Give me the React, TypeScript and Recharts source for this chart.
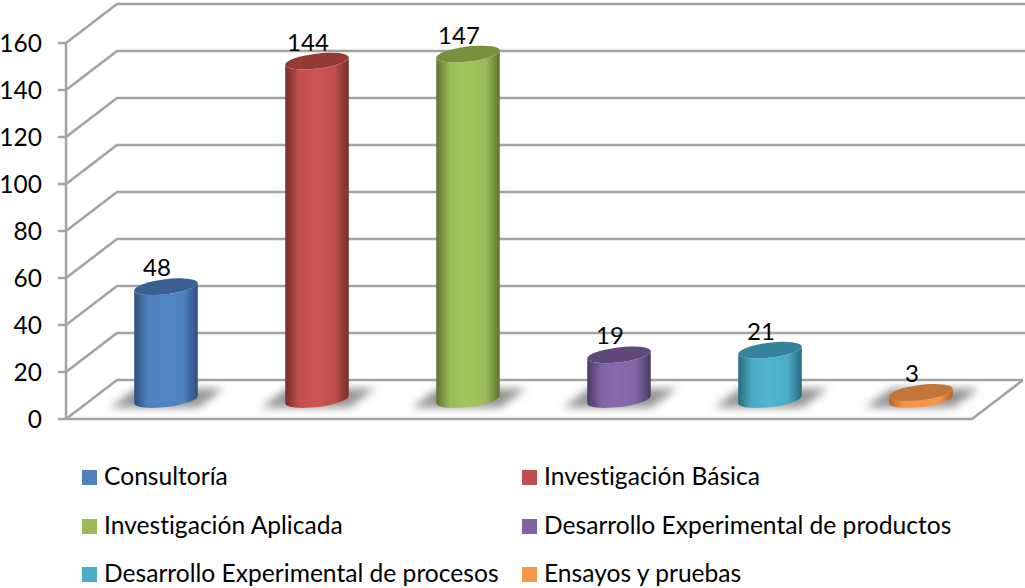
import { BarChart, Bar, XAxis, YAxis, CartesianGrid, LabelList } from "recharts";

const categories = [
  "Consultoría",
  "Investigación Básica",
  "Investigación Aplicada",
  "Desarrollo Experimental de productos",
  "Desarrollo Experimental de procesos",
  "Ensayos y pruebas",
];
const values = [48, 144, 147, 19, 21, 3];
const yTicks = [0, 20, 40, 60, 80, 100, 120, 140, 160];

// legend swatch, brightest body tone, cylinder edge, top cap
const swatch = ["#4f81bd", "#c0504d", "#9bbb59", "#8064a2", "#4bacc6", "#f79646"];
const bodyLight = ["#5085c5", "#cc5553", "#a2c55c", "#8a6bae", "#4fb6d2", "#f79646"];
const bodyDark = ["#2c4f7d", "#762c2a", "#5d7430", "#4c3a62", "#276a7c", "#b5652a"];
const capFill = ["#3a6190", "#943b38", "#76923c", "#5f497a", "#35849c", "#c0753a"];

const data = categories.map((name, i) => ({ name, value: values[i] }));

// depth of the fake 3D box
const DX = 51;
const DY = 39;
const FONT = "Lato, Carlito, sans-serif";
const GRID = "#a3a3a3";

function GridLine(props: any) {
  const { x1, x2, y1, index } = props;
  const isFloor = index === 0;
  return (
    <g fill="none" stroke={GRID} strokeWidth={2.5}>
      <polyline points={`${x1},${y1} ${x1 + DX},${y1 - DY} ${isFloor ? x2 + DX : 1025},${y1 - DY}`} />
      {isFloor && <polyline points={`${x1},${y1} ${x2},${y1} ${x2 + DX},${y1 - DY}`} />}
    </g>
  );
}

function Cylinder(props: any) {
  const { x, y, width, height, index } = props;
  const rx = width / 2 + 0.5;
  const ry = 7.5;
  const tilt = -7;
  const cx = x + width / 2 + DX / 2 - 1;
  const top = y - DY / 2;
  const base = top + height;
  const ex = rx * Math.cos((tilt * Math.PI) / 180);
  const ey = rx * Math.sin((tilt * Math.PI) / 180);
  const body =
    `M${cx + ex},${top + ey} L${cx + ex},${base + ey} ` +
    `A${rx},${ry} ${tilt} 0 1 ${cx - ex},${base - ey} ` +
    `L${cx - ex},${top - ey} A${rx},${ry} ${tilt} 0 0 ${cx + ex},${top + ey} Z`;
  return (
    <g>
      <polygon
        points={`${cx - 56},${base + 8} ${cx - 30},${base - 11} ${cx + 58},${base - 11} ${cx + 32},${base + 8}`}
        fill="#949494"
        filter="url(#floorShadow)"
      />
      <path d={body} fill={`url(#cyl-${index})`} />
      <ellipse cx={cx} cy={top} rx={rx} ry={ry} fill={capFill[index]} transform={`rotate(${tilt} ${cx} ${top})`} />
    </g>
  );
}

function ValueLabel(props: any) {
  const { x, y, width, value } = props;
  return (
    <text
      x={x + width / 2 + DX / 2 - 10}
      y={y - DY / 2 - 20}
      textAnchor="middle"
      dominantBaseline="central"
      fontFamily={FONT}
      fontSize={24}
      fill="#000"
    >
      {value}
    </text>
  );
}

const legendLeft = [82, 522];
const legendTop = [470, 519, 567];

export default function App() {
  return (
    <div style={{ position: "absolute", left: 0, top: 0, width: 1025, height: 588, background: "#fff", overflow: "hidden" }}>
      <BarChart width={1025} height={588} data={data} margin={{ top: 43, right: 53, bottom: 169, left: 0 }} barSize={63}>
        <defs>
          <filter id="floorShadow" x="-30%" y="-60%" width="160%" height="220%">
            <feGaussianBlur stdDeviation="4" />
          </filter>
          {swatch.map((mid, i) => (
            <linearGradient key={i} id={`cyl-${i}`} x1="0" y1="0" x2="1" y2="0">
              <stop offset="0%" stopColor={bodyDark[i]} />
              <stop offset="22%" stopColor={mid} />
              <stop offset="48%" stopColor={bodyLight[i]} />
              <stop offset="78%" stopColor={mid} />
              <stop offset="100%" stopColor={bodyDark[i]} />
            </linearGradient>
          ))}
        </defs>
        <CartesianGrid vertical={false} horizontal={(p: any) => <GridLine key={p.index} {...p} />} />
        <XAxis dataKey="name" tick={false} tickLine={false} height={0} axisLine={false} />
        <YAxis
          width={66}
          domain={[0, 160]}
          ticks={yTicks}
          interval={0}
          tick={{ fontFamily: FONT, fontSize: 24.5, fill: "#000" }}
          tickSize={8}
          tickMargin={16}
          tickLine={{ stroke: GRID, strokeWidth: 2.5 }}
          axisLine={{ stroke: GRID, strokeWidth: 2.5 }}
        />
        <Bar dataKey="value" shape={<Cylinder />} isAnimationActive={false}>
          <LabelList dataKey="value" content={<ValueLabel />} />
        </Bar>
      </BarChart>
      {categories.map((name, i) => {
        const left = legendLeft[i % 2];
        const top = legendTop[Math.floor(i / 2)];
        return (
          <div key={name}>
            <div style={{ position: "absolute", left, top, width: 15, height: 15, background: swatch[i] }} />
            <div
              style={{
                position: "absolute",
                left: left + 22,
                top: top - 10,
                lineHeight: "32px",
                fontFamily: FONT,
                fontSize: 24.6,
                fontVariantLigatures: "none",
                color: "#000",
                whiteSpace: "nowrap",
              }}
            >
              {name}
            </div>
          </div>
        );
      })}
    </div>
  );
}
